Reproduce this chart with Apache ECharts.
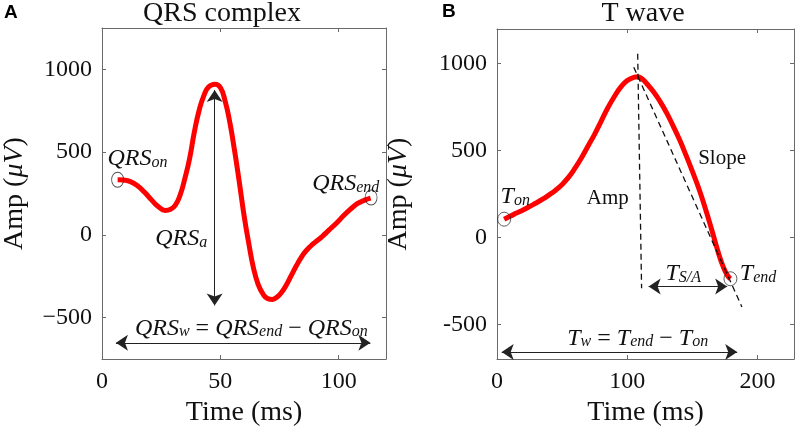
<!DOCTYPE html>
<html><head><meta charset="utf-8">
<script src="https://cdn.jsdelivr.net/npm/echarts@6/dist/echarts.min.js"></script>
<style>html,body{margin:0;padding:0;background:#fff}#c{width:796px;height:434px}</style>
</head><body><div id="c"></div>
<script>
// ---- Data ----
const qrsTime = [6.6,9,12,15,18,21,24,26.7,29,31,33,35,37,39,41,43,45,47.8,50,52,54,56,58,60,62,64,66,68,70,72,74,76,78,80,82,84,86,88,90,93,96,99,102,105,108,111,113.5];
const qrsAmp  = [333,331,322,297,257,210,168,148,155,180,240,340,460,620,750,840,893,910,890,810,680,510,320,120,-50,-200,-300,-357,-385,-390,-375,-345,-300,-245,-190,-140,-100,-70,-45,-10,30,70,115,155,190,210,222];
const tTime = [5.5,10,15,20,25,30,35,40,45,50,55,60,65,70,75,80,85,90,95,100,105,108,111,115,120,125,130,135,140,145,150,155,160,165,170,174,177,179.2];
const tAmp  = [105,122,140,158,178,198,220,245,272,305,347,400,460,528,595,670,745,810,865,903,922,925,915,885,840,785,720,645,565,475,380,280,165,40,-90,-175,-220,-238];
const qrsXTicks = [0,50,100];
const qrsYTicks = [-500,0,500,1000];
const tXTicks = [0,100,200];
const tYTicks = [-500,0,500,1000];
// annotation anchors [x, y]
const qrsOnPt = [6.6,333], qrsEndPt = [113.7,226];
const tOnPt = [5.5,105], tEndPt = [179.2,-238];
const qrsAmpArrow = [[47.6,875],[47.6,-426]];
const qrsWidthArrow = [[5.9,-652],[113.4,-652]];
const tAmpLine = [[108,1057],[111,-293]];
const tSlopeLine = [[105,980],[188,-400]];
const tSAArrow = [[116.4,-282],[176.7,-282]];
const tWidthArrow = [[3.6,-659],[184.4,-659]];
const qrsLabels = [
  {pos:[15,476], text:'{m|QRS}{s|on}'},
  {pos:[103,325], text:'{m|QRS}{s|end}'},
  {pos:[33.5,-6], text:'{m|QRS}{s|a}'},
  {pos:[63.1,-546], text:'{m|QRS}{s|w}{r| = }{m|QRS}{s|end}{r| − }{m|QRS}{s|on}'}
];
const tLabels = [
  {pos:[14,253], text:'{m|T}{s|on}'},
  {pos:[200.4,-190], text:'{m|T}{s|end}'},
  {pos:[143,-190], text:'{m|T}{s|S/A}'},
  {pos:[108,-563], text:'{m|T}{s|w}{r| = }{m|T}{s|end}{r| − }{m|T}{s|on}'},
  {pos:[85,224], text:'{u|Amp}'},
  {pos:[172.8,452], text:'{u|Slope}'}
];

const SERIF = 'Liberation Serif';
const AX = '#6a6a6a', TXT = '#111';
const rich = {
  m:{fontFamily:SERIF,fontStyle:'italic',fontSize:24,lineHeight:30,fill:TXT,verticalAlign:'bottom'},
  s:{fontFamily:SERIF,fontStyle:'italic',fontSize:16,lineHeight:16,fill:TXT,verticalAlign:'bottom'},
  r:{fontFamily:SERIF,fontSize:24,lineHeight:30,fill:TXT,verticalAlign:'bottom'},
  u:{fontFamily:SERIF,fontSize:21,lineHeight:30,fill:TXT}
};

function xAx(grid, min, max, ticks, pos, labels, name){
  return {
    type:'value', gridIndex:grid, min:min, max:max, position:pos,
    axisLine:{show:true,onZero:false,lineStyle:{color:AX,width:1}},
    axisTick:{show:true,inside:true,length:4,customValues:ticks,lineStyle:{color:AX}},
    axisLabel:{show:labels,customValues:ticks,margin:11,fontFamily:SERIF,fontSize:24,color:TXT,formatter:v=>String(v)},
    splitLine:{show:false},
    name: name||'', nameLocation:'middle', nameGap:38,
    nameTextStyle:{fontFamily:SERIF,fontSize:28,color:TXT}
  };
}
function yAx(grid, min, max, ticks, pos, labels, fmt, gap){
  return {
    type:'value', gridIndex:grid, min:min, max:max, position:pos,
    axisLine:{show:true,onZero:false,lineStyle:{color:AX,width:1}},
    axisTick:{show:true,inside:true,length:4,customValues:ticks,lineStyle:{color:AX}},
    axisLabel:{show:labels,customValues:ticks,margin:10,fontFamily:SERIF,fontSize:24,color:TXT,formatter:fmt||(v=>String(v))},
    splitLine:{show:false},
    name: labels ? 'Amp ({i|μV})' : '', nameLocation:'middle', nameGap:gap||60,
    nameTextStyle:{fontFamily:SERIF,fontSize:28,color:TXT,
      rich:{i:{fontFamily:SERIF,fontStyle:'italic',fontSize:28,color:TXT}}}
  };
}
const minusFmt = v => v < 0 ? '\u2212' + Math.abs(v) : String(v);

function seg(p){
  return [{coord:p[0]},{coord:p[1]}];
}
function labelSeries(grid, items){
  return {
    type:'custom', xAxisIndex:grid*2, yAxisIndex:grid*2, silent:true, z:5,
    data: items.map(d => d.pos),
    renderItem: function(params, api){
      const p = api.coord([api.value(0), api.value(1)]);
      return {type:'text', x:p[0], y:p[1], silent:true,
        style:{text:items[params.dataIndex].text, rich:rich, align:'center', verticalAlign:'middle', fill:TXT}};
    }
  };
}
function circleSeries(grid, pts, size){
  return {
    type:'scatter', xAxisIndex:grid*2, yAxisIndex:grid*2, symbol:'circle', symbolSize:size, silent:true,
    itemStyle:{color:'rgba(0,0,0,0)',borderColor:'#222',borderWidth:0.9},
    data: pts, z:6
  };
}
const arrowML = (lines) => ({
  silent:true, symbol:['arrow','arrow'], symbolSize:12, label:{show:false},
  lineStyle:{color:'#222',width:1,type:'solid'}, emphasis:{disabled:true},
  data: lines.map(seg)
});

const option = {
  animation:false,
  title:[
    {text:'QRS complex', left:222, top:0, textAlign:'center', padding:0, textStyle:{fontFamily:SERIF,fontSize:28,fontWeight:'normal',color:TXT}},
    {text:'T wave', left:643, top:0, textAlign:'center', padding:0, textStyle:{fontFamily:SERIF,fontSize:28,fontWeight:'normal',color:TXT}},
    {text:'A', left:4, top:3, padding:0, textStyle:{fontFamily:'Liberation Sans',fontSize:19,fontWeight:'bold',color:'#000'}},
    {text:'B', left:442, top:2, padding:0, textStyle:{fontFamily:'Liberation Sans',fontSize:19,fontWeight:'bold',color:'#000'}}
  ],
  grid:[
    {left:87, width:299, top:28, height:331},
    {left:497, width:297, top:29, height:330}
  ],
  xAxis:[
    xAx(0,0,120,qrsXTicks,'bottom',true,'Time (ms)'),
    xAx(0,0,120,qrsXTicks,'top',false),
    xAx(1,0,228,tXTicks,'bottom',true,'Time (ms)'),
    xAx(1,0,228,tXTicks,'top',false)
  ],
  yAxis:[
    yAx(0,-750,1250,qrsYTicks,'left',true,minusFmt,73),
    yAx(0,-750,1250,qrsYTicks,'right',false),
    yAx(1,-700,1200,tYTicks,'left',true,undefined,84),
    yAx(1,-700,1200,tYTicks,'right',false)
  ],
  series:[
    {
      type:'line', xAxisIndex:0, yAxisIndex:0, smooth:true, showSymbol:false, silent:true,
      data: qrsTime.map((t,i)=>[t,qrsAmp[i]]),
      lineStyle:{color:'#ff0000',width:5}, z:3,
      markLine: arrowML([qrsAmpArrow, qrsWidthArrow])
    },
    {
      type:'line', xAxisIndex:2, yAxisIndex:2, smooth:true, showSymbol:false, silent:true,
      data: tTime.map((t,i)=>[t,tAmp[i]]),
      lineStyle:{color:'#ff0000',width:5}, z:3,
      markLine: arrowML([tSAArrow, tWidthArrow])
    },
    {
      type:'line', xAxisIndex:2, yAxisIndex:2, data:[], silent:true, z:4,
      markLine:{silent:true, symbol:['none','none'], label:{show:false}, emphasis:{disabled:true},
        lineStyle:{color:'#111',width:1.3,type:[6,4]}, data:[seg(tAmpLine), seg(tSlopeLine)]}
    },
    circleSeries(0,[qrsOnPt,qrsEndPt],[12,15]),
    circleSeries(1,[tOnPt,tEndPt],[13,14]),
    labelSeries(0,qrsLabels),
    labelSeries(1,tLabels)
  ]
};
const chart = echarts.init(document.getElementById('c'));
chart.setOption(option);
</script></body></html>
